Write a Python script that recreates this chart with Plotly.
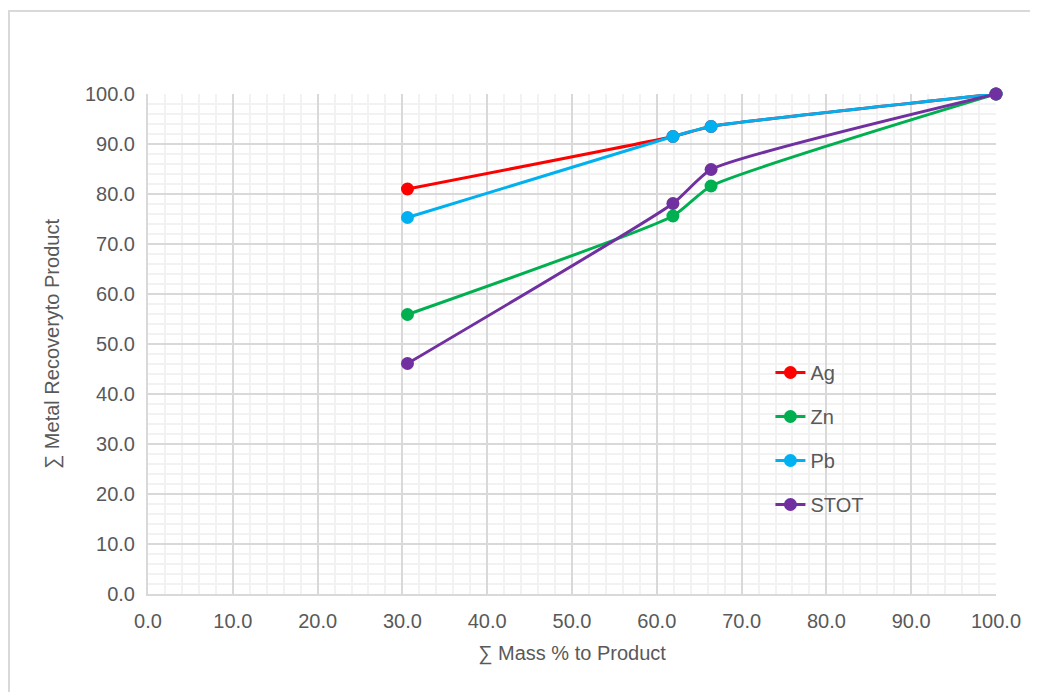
import plotly.graph_objects as go

mass = [30.6, 61.9, 66.4, 100.0]
ag = [81.0, 91.5, 93.5, 100.0]
zn = [55.9, 75.6, 81.6, 100.0]
pb = [75.3, 91.5, 93.5, 100.0]
stot = [46.1, 78.1, 84.9, 100.0]

series = [("Ag", ag, "#ff0000"), ("Zn", zn, "#00b050"), ("Pb", pb, "#00b0f0"), ("STOT", stot, "#7030a0")]

fig = go.Figure()
for i, (name, vals, col) in enumerate(series):
    fig.add_trace(go.Scatter(
        x=mass, y=vals, name=name, mode="lines+markers",
        line=dict(color=col, width=3, shape="spline", smoothing=0.5),
        marker=dict(color=col, size=13),
        legendgroup=name, cliponaxis=False,
    ))

font = "Liberation Sans, Arial, sans-serif"
axis_common = dict(
    showgrid=True, gridcolor="#d9d9d9", gridwidth=2,
    showline=True, linecolor="#d9d9d9", linewidth=2,
    zeroline=False, tickformat=".1f",
    ticks="outside", tickcolor="rgba(0,0,0,0)",
    tickfont=dict(family=font, size=20, color="#595959"),
    minor=dict(dtick=2, showgrid=True, gridcolor="#f2f2f2", gridwidth=2, ticks=""),
)
fig.update_xaxes(range=[0, 100], dtick=10, ticklen=8,
                 title=dict(text="∑ Mass % to Product", font=dict(family=font, size=20, color="#595959"), standoff=15),
                 **axis_common)
fig.update_yaxes(range=[0, 100], dtick=10, ticklen=7,
                 title=dict(text="∑ Metal Recoveryto Product", font=dict(family=font, size=20, color="#595959"), standoff=20),
                 **axis_common)

fig.add_shape(type="rect", xref="paper", yref="paper",
              x0=-0.1639, x1=1.06, y0=-0.22, y1=1.166,
              line=dict(color="#d9d9d9", width=2), fillcolor="rgba(0,0,0,0)", layer="below")

fig.update_layout(
    width=1030, height=684,
    margin=dict(l=140, r=42, t=86, b=98),
    plot_bgcolor="white", paper_bgcolor="white",
    legend=dict(x=0.734, y=0.482, xanchor="left", yanchor="top",
                font=dict(family=font, size=20, color="#595959"),
                bgcolor="rgba(255,255,255,0)", tracegroupgap=15,
                traceorder="grouped"),
    showlegend=True,
)

fig.write_html("out.html")
